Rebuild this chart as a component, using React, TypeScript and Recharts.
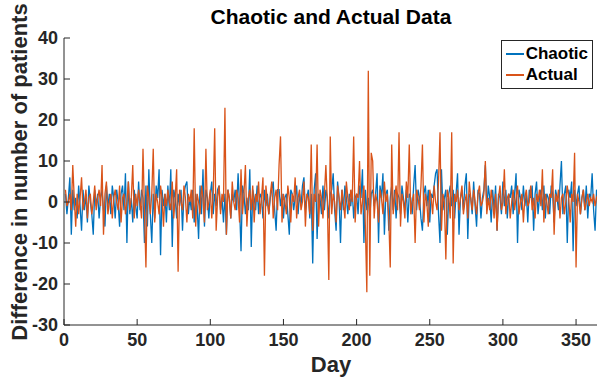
import { LineChart, Line, XAxis, YAxis, Legend } from 'recharts'

// daily differences (day 1..365)
const chaotic = [
  2, -3, 1, 6, -8, 3, -2, 1, -4, 4,
  -1, -7, 3, -2, 2, -5, 4, 0, -3, -8,
  3, -1, 2, -4, 1, 3, -2, -6, 4, -1,
  2, -3, 4, 1, -4, 3, 0, -6, 2, 4,
  -2, 7, -10, 5, -3, 1, -5, 3, -1, -4,
  5, -2, 3, 1, -10, 4, -6, 8, -3, -10,
  2, -4, 4, 1, 8, -13, 3, -1, 2, -5,
  4, -2, 8, -11, 3, 1, -4, 2, -1, 3,
  -7, 2, 4, 5, -3, 1, -2, 3, -5, 2,
  -1, -9, 4, -3, 8, -6, 3, 1, -4, 2,
  5, -3, 2, -1, 3, 4, -2, 1, -5, 2,
  -8, 3, 1, -4, 2, 0, 3, -2, 7, -1,
  -12, 4, 2, -3, 1, -2, 8, -11, 3, 1,
  -2, 4, -3, 2, 1, -4, 3, -1, 2, -3,
  1, 3, 5, -2, -7, 3, 3, -1, 2, -4,
  1, 2, -3, -8, 3, 2, -2, 1, 4, -3,
  2, -1, 4, 6, -2, 1, 3, -4, 2, -15,
  3, 7, -9, 2, 1, -3, 4, -2, 3, 1,
  -4, 2, 3, 7, -2, -7, 5, 1, -10, 3,
  -2, 4, 1, -3, 2, -1, 3, -4, 1, 2,
  -3, 4, 1, 8, -10, 3, -2, 1, -4, 2,
  3, -1, 2, 7, -10, 4, 1, 7, -8, 2,
  3, -7, 1, 4, -2, 3, -4, 2, 1, -3,
  4, 1, -2, 3, -5, 2, 1, -3, 4, 9,
  -2, 3, 1, -4, -7, 2, 4, -1, 3, -5,
  2, 1, 4, 7, 8, -3, -10, 8, -2, 1,
  3, -8, 2, 4, -1, 3, -4, 2, 7, -8,
  1, 3, -2, 4, 7, -9, 2, 1, -3, 5,
  -1, -6, 3, 2, -4, 1, 3, 9, -2, 4,
  1, -5, 3, -2, 4, -7, 2, 1, -3, 5,
  -1, 3, -4, 2, 1, 4, -3, 2, 7, -10,
  3, 1, -2, 4, -1, 2, -5, 3, 1, 4,
  -7, 2, 5, -3, 1, 3, -2, 4, -4, 2,
  1, -3, 4, 2, -5, 3, 1, -2, 4, 10,
  -3, 2, 4, -10, 3, 1, 5, -12, 3, -1,
  2, 4, -3, 1, 3, -2, 4, -4, 2, 1,
  7, -2, -7, 3, 1,
]

const actual = [
  3, -1, 0, 2, -2, 9, 1, -6, 2, -3,
  1, 6, -2, 0, 3, -4, 1, 2, -3, 0,
  4, -2, 1, 3, -1, 9, -8, 2, 5, -3,
  0, 2, -4, 1, 3, 0, -2, 4, -5, 1,
  2, -3, 0, 5, -2, 1, 9, -4, 2, -1,
  3, 0, -4, 13, -2, -16, 4, 1, -3, 2,
  13, -5, 2, 0, -3, 4, 1, -6, 2, -1,
  3, 0, -2, 5, -4, 1, 8, -17, 3, 0,
  -2, 4, 1, -5, 2, 0, 3, -4, 18, -6,
  2, 0, -3, 4, 1, -5, 13, -2, 0, 3,
  -4, 2, 18, -7, 1, 4, -3, 2, 0, 23,
  -8, 3, 1, -4, 5, 0, -2, 3, 1, -5,
  8, -3, 2, 9, -6, 1, 3, -2, 4, -5,
  2, 0, 5, -3, 1, 6, -18, 4, 0, -3,
  2, 5, -4, 1, 3, -2, 9, 16, -5, 2,
  0, -3, 4, 1, -5, 2, 0, 6, -4, 1,
  3, -2, 0, 5, -6, 2, 1, -3, 14, -7,
  2, 0, 14, -6, 3, 1, -4, 2, 9, 0,
  -19, 16, -3, 2, 0, -5, 4, 1, -2, 3,
  0, -4, 5, 1, -2, 3, 0, 16, -5, 2,
  1, 10, -3, 0, 4, -6, -22, 32, -18, 12,
  10, -4, 2, 0, -5, 3, 1, -3, 5, 0,
  2, -4, -16, 14, -3, 1, 4, -2, 17, -6,
  2, 0, -4, 5, 1, 14, -3, 0, 2, -10,
  3, 1, -2, 4, 14, -5, 2, 0, -6, 3,
  1, -3, 4, 0, -2, 5, 17, -7, 2, 0,
  -14, 3, 1, -4, 17, -15, 2, 0, 3, -2,
  1, 4, -3, 0, 2, -4, 5, 1, -2, 3,
  0, -3, 2, 4, -1, 0, 2, 10, -3, 1,
  -2, 3, 0, -4, 2, -7, 1, 4, -2, 0,
  8, -3, 1, 2, -4, 0, 3, -2, 1, 4,
  -3, 0, 2, -5, 1, 3, -1, 0, 4, -2,
  1, -4, 2, 0, 3, -1, 8, -5, 2, 0,
  -3, 2, 1, 8, -8, 2, 0, 3, -4, 1,
  2, -3, 0, 4, 1, -5, 2, 0, 12, -16,
  2, 0, -3, 1, 3, -2, 0, 2, -1, 1,
  0, 2, -1, 1, 2,
]

const seriesNames = ['Chaotic', 'Actual']
const xTicks = [0, 50, 100, 150, 200, 250, 300, 350]
const yTicks = [-30, -20, -10, 0, 10, 20, 30, 40]

const data = actual.map((a, i) => ({ day: i + 1, chaotic: chaotic[i], actual: a }))

const AXIS = '#262626'
const FONT = '"Liberation Sans", Arial, Helvetica, sans-serif'
const TICK = 6

const BottomTick = ({ x, y, payload }: any) => (
  <g>
    <line x1={x} x2={x} y1={y} y2={y - TICK} stroke={AXIS} />
    <text x={x} y={y + 21} textAnchor="middle" fill={AXIS} fontSize={18} fontWeight="bold" fontFamily={FONT}>
      {payload.value}
    </text>
  </g>
)

const TopTick = ({ x, y }: any) => <line x1={x} x2={x} y1={y} y2={y + TICK} stroke={AXIS} />

const LeftTick = ({ x, y, payload }: any) => (
  <g>
    <line x1={x} x2={x + TICK} y1={y} y2={y} stroke={AXIS} />
    <text x={x - 6} y={y + 6} textAnchor="end" fill={AXIS} fontSize={18} fontWeight="bold" fontFamily={FONT}>
      {payload.value}
    </text>
  </g>
)

const RightTick = ({ x, y }: any) => <line x1={x} x2={x - TICK} y1={y} y2={y} stroke={AXIS} />

// keep the plotting order (Chaotic first), not alphabetical
const LegendBox = ({ payload }: any) => {
  const items = [...(payload || [])].sort(
    (a: any, b: any) => seriesNames.indexOf(a.value) - seriesNames.indexOf(b.value)
  )
  return (
    <div
      style={{
        background: '#fff',
        border: `1px solid ${AXIS}`,
        padding: '2px 4px 3px 4px',
        fontFamily: FONT,
        fontWeight: 'bold',
        fontSize: 17,
        lineHeight: '21px',
      }}
    >
      {items.map((p: any) => (
        <div key={p.value} style={{ display: 'flex', alignItems: 'center' }}>
          <span style={{ display: 'inline-block', width: 18, height: 2, background: p.color, marginRight: 2 }} />
          <span style={{ color: '#000' }}>{p.value}</span>
        </div>
      ))}
    </div>
  )
}

export default function App() {
  return (
    <div style={{ position: 'absolute', left: 0, top: 0, width: 597, height: 377, overflow: 'hidden', background: '#fff' }}>
      <div
        style={{
          position: 'absolute',
          left: 64,
          width: 534,
          top: 5,
          textAlign: 'center',
          fontFamily: FONT,
          fontWeight: 'bold',
          fontSize: 21,
          color: '#000',
        }}
      >
        Chaotic and Actual Data
      </div>
      <div
        style={{
          position: 'absolute',
          left: 20,
          top: 172,
          transform: 'translate(-50%, -50%) rotate(-90deg)',
          whiteSpace: 'nowrap',
          fontFamily: FONT,
          fontWeight: 'bold',
          fontSize: 22,
          color: AXIS,
        }}
      >
        Difference in number of patients
      </div>
      <div
        style={{
          position: 'absolute',
          left: 64,
          width: 534,
          top: 352,
          textAlign: 'center',
          fontFamily: FONT,
          fontWeight: 'bold',
          fontSize: 22,
          color: AXIS,
        }}
      >
        Day
      </div>
      <LineChart width={598} height={377} data={data} margin={{ top: 38, right: 0, bottom: 0, left: 0 }}>
        <XAxis
          dataKey="day"
          type="number"
          domain={[0, 365]}
          ticks={xTicks}
          allowDataOverflow
          height={52}
          tickSize={0}
          tickMargin={0}
          tick={<BottomTick />}
          tickLine={false}
          axisLine={{ stroke: AXIS }}
        />
        <XAxis
          xAxisId="top"
          orientation="top"
          dataKey="day"
          type="number"
          domain={[0, 365]}
          ticks={xTicks}
          height={0}
          tickSize={0}
          tickMargin={0}
          tick={<TopTick />}
          tickLine={false}
          axisLine={{ stroke: AXIS }}
        />
        <YAxis
          type="number"
          domain={[-30, 40]}
          ticks={yTicks}
          allowDataOverflow
          width={64}
          tickSize={0}
          tickMargin={0}
          tick={<LeftTick />}
          tickLine={false}
          axisLine={{ stroke: AXIS }}
        />
        <YAxis
          yAxisId="right"
          orientation="right"
          type="number"
          domain={[-30, 40]}
          ticks={yTicks}
          width={0}
          tickSize={0}
          tickMargin={0}
          tick={<RightTick />}
          tickLine={false}
          axisLine={{ stroke: AXIS }}
        />
        <Legend
          layout="vertical"
          align="center"
          verticalAlign="middle"
          wrapperStyle={{ top: 40, right: 5, left: 'auto', width: 'auto' }}
          content={<LegendBox />}
        />
        <Line
          type="linear"
          dataKey="chaotic"
          name={seriesNames[0]}
          stroke="#0072BD"
          strokeWidth={1.3}
          dot={false}
          isAnimationActive={false}
        />
        <Line
          type="linear"
          dataKey="actual"
          name={seriesNames[1]}
          stroke="#D95319"
          strokeWidth={1.3}
          dot={false}
          isAnimationActive={false}
        />
      </LineChart>
    </div>
  )
}
